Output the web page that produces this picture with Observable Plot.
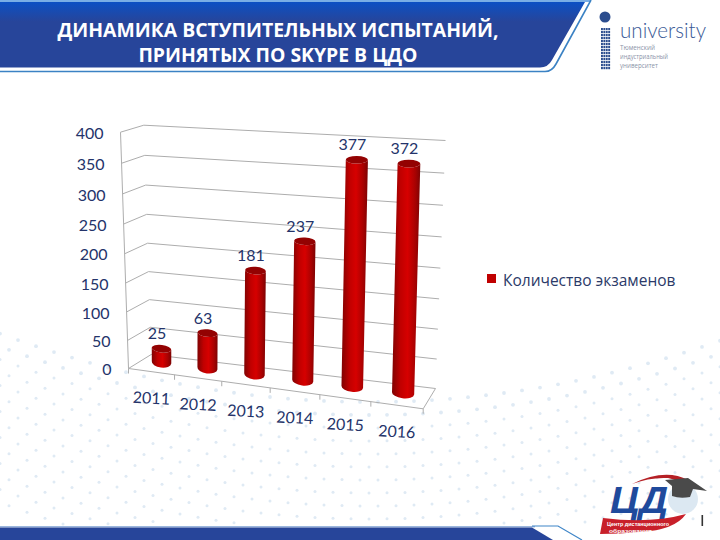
<!DOCTYPE html>
<html lang="ru"><head><meta charset="utf-8">
<script src="https://cdn.jsdelivr.net/npm/d3@7"></script>
<script src="https://cdn.jsdelivr.net/npm/@observablehq/plot@0.6"></script>
<style>
html,body{margin:0;padding:0;background:#fff;width:720px;height:540px;overflow:hidden}
#page{position:relative;width:720px;height:540px;overflow:hidden;font-family:Lato,"Open Sans",sans-serif}
#page>svg,#chart{position:absolute;left:0;top:0}
#chart svg{display:block}
.title{position:absolute;left:0;width:556px;text-align:center;color:#fff;font:700 19.8px/24px "Open Sans",sans-serif;white-space:nowrap;transform:scaleX(.98);transform-origin:277px 0}
.legend{position:absolute;left:503px;top:270px;font:15.5px/20px "Open Sans",sans-serif;color:#2b3a68;white-space:nowrap}
.sw{position:absolute;left:487px;top:274px;width:9px;height:9px;background:#c00000}
</style></head><body>
<div id="page">
<svg id="deco" width="720" height="540" viewBox="0 0 720 540"></svg>
<div id="chart"></div>
<svg id="brand" width="720" height="540" viewBox="0 0 720 540">
  <defs><linearGradient id="ban" x1="0" y1="0" x2="0" y2="1">
    <stop offset="0" stop-color="#0c50c4"/><stop offset=".3" stop-color="#27459a"/><stop offset="1" stop-color="#27459a"/>
  </linearGradient></defs>
  <rect x="0" y="0" width="590" height="2" fill="#79aee6"/>
  <path d="M0 2H585L552 60Q548 67.5 540 67.5H0Z" fill="url(#ban)"/>
  <path d="M591 0L556 64Q552 71.5 545 71.5H0" fill="none" stroke="#3b82c4" stroke-width="1.6"/>
  <rect x="0" y="526" width="535" height="1.4" fill="#9bb6dd"/>
  <path d="M0 527.5H532L553 540H0Z" fill="#27459a"/>
  <path d="M532 526H558L582 540" fill="none" stroke="#3f86c8" stroke-width="1.2"/>
  <!-- university logo -->
  <circle cx="605" cy="17" r="5.5" fill="#2c4d8e"/>
  <g id="logoDots"></g>
  <text x="620" y="38" font-family="Lato,'Open Sans'" font-weight="300" font-size="22" fill="#3a5a96" textLength="86" lengthAdjust="spacingAndGlyphs">university</text>
  <g font-family="'Open Sans'" font-size="6.4" fill="#8a93a8">
    <text x="620" y="50" textLength="35" lengthAdjust="spacingAndGlyphs">Тюменский</text>
    <text x="620" y="59" textLength="48" lengthAdjust="spacingAndGlyphs">индустриальный</text>
    <text x="620" y="68" textLength="38" lengthAdjust="spacingAndGlyphs">университет</text>
  </g>
  <!-- ЦД logo -->
  <path d="M632 484Q665 468 688 480Q696 486 694 496Q688 482 668 478Q650 477 632 484Z" fill="#b52025"/>
  <text x="610" y="513" font-family="'Liberation Sans'" font-weight="700" font-style="italic" font-size="36" fill="#1f4a9c" textLength="58" lengthAdjust="spacingAndGlyphs">ЦД</text>
  <circle cx="683" cy="499" r="15" fill="#dce8f2"/>
  <path d="M665 480L688 478L707 491L693 489L690 497Q680 499 672 496L672 486Z" fill="#4a4a4a"/>
  <path d="M603 518Q650 524 686 514Q675 530 640 532Q620 534 600 534Z" fill="#c8202a"/>
  <g font-family="'Liberation Sans'" font-weight="700" font-size="5.2" fill="#fff">
    <text x="607" y="526" textLength="62" lengthAdjust="spacingAndGlyphs">Центр дистанционного</text>
    <text x="609" y="532.5" textLength="43" lengthAdjust="spacingAndGlyphs">образования</text>
  </g>
  <rect x="701.5" y="515" width="1.6" height="11" fill="#333"/>
</svg>
<div class="title" style="top:18px">ДИНАМИКА ВСТУПИТЕЛЬНЫХ ИСПЫТАНИЙ,</div>
<div class="title" style="top:43px">ПРИНЯТЫХ ПО SKYPE В ЦДО</div>
<div class="sw"></div>
<div class="legend">Количество экзаменов</div>
</div>
<script>
// --- data ---
const years = [2011, 2012, 2013, 2014, 2015, 2016];
const counts = [25, 63, 181, 237, 377, 372];
const yTicks = [0, 50, 100, 150, 200, 250, 300, 350, 400];
const xEdges = [2010.5, 2011.5, 2012.5, 2013.5, 2014.5, 2015.5, 2016.5];
const legendLabel = "Количество экзаменов";

// --- oblique view of the chart's box: plot space -> page ---
const SPAN = 1000;
const warpU = u => u / (u + (1 - u) * 1.08);
const warpV = v => v / (v + (1 - v) * 1.06);
const mix = (a, b, t) => [a[0] + (b[0] - a[0]) * t, a[1] + (b[1] - a[1]) * t];
const corners = {
  flb: [128, 368], flt: [120, 131.7], frb: [422.7, 408.3], frt: [432, 147],
  blb: [150.7, 354], blt: [143.3, 124.7], brb: [435, 388], brt: [445, 140]
};
function box(px, py, d) {
  const w = warpU(px / SPAN), v = warpV(1 - py / SPAN), c = corners;
  const f = mix(mix(c.flb, c.frb, w), mix(c.flt, c.frt, w), v);
  const b = mix(mix(c.blb, c.brb, w), mix(c.blt, c.brt, w), v);
  return mix(f, b, d);
}
function barPlane(px, py) {
  const w = warpU(px / SPAN), v = 1 - py / SPAN;
  return mix(mix([139, 359.5], [429, 396.5], w), mix([138, 144.5], [436, 146.5], w), v);
}

function linkRender(d1, d2, dx = 0, dy = 0) {
  return (index, scales, values, dims, ctx, next) => {
    const n = values.x1.length;
    const x1 = new Float64Array(n), y1 = new Float64Array(n), x2 = new Float64Array(n), y2 = new Float64Array(n);
    for (let i = 0; i < n; i++) {
      const a = box(values.x1[i], values.y1[i], d1), b = box(values.x2[i], values.y2[i], d2);
      x1[i] = a[0]; y1[i] = a[1]; x2[i] = b[0] + dx; y2[i] = b[1] + dy;
    }
    return next(index, scales, {...values, x1, y1, x2, y2}, dims, ctx);
  };
}
function textRender(fn, dx, dy) {
  return (index, scales, values, dims, ctx, next) => {
    const n = values.x.length, x = new Float64Array(n), y = new Float64Array(n);
    for (let i = 0; i < n; i++) {
      const p = fn(values.x[i], values.y[i]);
      x[i] = p[0] + dx; y[i] = p[1] + dy;
    }
    return next(index, scales, {...values, x, y}, dims, ctx);
  };
}
function cylinderRender(index, scales, values, dims, ctx, next) {
  const g = next(index, scales, values, dims, ctx);
  const NS = "http://www.w3.org/2000/svg";
  Array.from(g.querySelectorAll("rect")).forEach((r, k) => {
    const i = index[k];
    const xa = values.x1[i], xb = values.x2[i], yt = values.y2[i], yb = values.y1[i];
    const lb = barPlane(xa, yb), rb = barPlane(xb, yb), lt = barPlane(xa, yt), rt = barPlane(xb, yt);
    const hb = Math.hypot(rb[0] - lb[0], rb[1] - lb[1]) / 2, ht = Math.hypot(rt[0] - lt[0], rt[1] - lt[1]) / 2;
    const ab = Math.atan2(rb[1] - lb[1], rb[0] - lb[0]) * 180 / Math.PI;
    const at = Math.atan2(rt[1] - lt[1], rt[0] - lt[0]) * 180 / Math.PI;
    const wrap = document.createElementNS(NS, "g");
    const body = document.createElementNS(NS, "path");
    body.setAttribute("d", `M${lt}L${lb}A${hb} 5.2 ${ab} 0 0 ${rb}L${rt}A${ht} 3.8 ${at} 0 1 ${lt}Z`);
    body.setAttribute("fill", "url(#barGrad)");
    const cap = document.createElementNS(NS, "ellipse");
    cap.setAttribute("cx", (lt[0] + rt[0]) / 2); cap.setAttribute("cy", (lt[1] + rt[1]) / 2);
    cap.setAttribute("rx", ht); cap.setAttribute("ry", 3.8);
    cap.setAttribute("transform", `rotate(${at} ${(lt[0] + rt[0]) / 2} ${(lt[1] + rt[1]) / 2})`);
    cap.setAttribute("fill", "#930202");
    wrap.append(body, cap);
    r.parentNode.replaceChild(wrap, r);
  });
  return g;
}

const xMin = xEdges[0], xMax = xEdges[xEdges.length - 1];
const grid = "#adadad", ink = "#24336a";
const plot = Plot.plot({
  width: 720, height: 540, margin: 0,
  x: {domain: [xMin, xMax], range: [0, SPAN], axis: null},
  y: {domain: [0, 400], range: [SPAN, 0], axis: null},
  style: {background: "transparent", overflow: "visible", fontFamily: "Lato, 'Open Sans', sans-serif"},
  marks: [
    Plot.link(yTicks, {x1: () => xMin, x2: () => xMax, y1: d => d, y2: d => d, stroke: grid, strokeWidth: 1, render: linkRender(1, 1)}),
    Plot.link(yTicks, {x1: () => xMin, x2: () => xMin, y1: d => d, y2: d => d, stroke: grid, strokeWidth: 1, render: linkRender(0, 1)}),
    Plot.link([0], {x1: () => xMin, x2: () => xMin, y1: () => 0, y2: () => 400, stroke: grid, strokeWidth: 1, render: linkRender(0, 0)}),
    Plot.link([0], {x1: () => xMin, x2: () => xMax, y1: () => 0, y2: () => 0, stroke: grid, strokeWidth: 1, render: linkRender(0, 0)}),
    Plot.link([0], {x1: () => xMax, x2: () => xMax, y1: () => 0, y2: () => 0, stroke: grid, strokeWidth: 1, render: linkRender(0, 1)}),
    Plot.link(xEdges, {x1: d => d, x2: d => d, y1: () => 0, y2: () => 0, stroke: grid, strokeWidth: 1, render: linkRender(0, 0, 0, 5)}),
    Plot.rect(years, {x1: d => d - 0.215, x2: d => d + 0.215, y1: () => 0, y2: (d, i) => counts[i], fill: "#c00000", render: cylinderRender}),
    Plot.text(yTicks, {x: () => xMin, y: d => d, text: d => String(d), textAnchor: "end", lineAnchor: "middle", fontSize: 16, fill: ink,
      render: textRender((x, y) => box(x, y, 0), -17, 1.5)}),
    Plot.text(years, {x: d => d, y: () => 0, text: d => String(d), lineAnchor: "middle", rotate: 3, fontSize: 16, fill: ink,
      render: textRender((x, y) => box(x, y, 0), 0, 27)}),
    Plot.text(years, {x: d => d, y: (d, i) => counts[i], text: (d, i) => String(counts[i]), lineAnchor: "middle", fontSize: 16, fill: ink,
      render: textRender(barPlane, -5, -15)})
  ]
});
d3.select(plot).append("defs").html(`<linearGradient id="barGrad" x1="0" y1="0" x2="1" y2="0">
  <stop offset="0" stop-color="#7f0303"/><stop offset=".3" stop-color="#c00000"/><stop offset=".55" stop-color="#d60000"/>
  <stop offset=".82" stop-color="#a80202"/><stop offset="1" stop-color="#7c0303"/></linearGradient>`);
document.getElementById("chart").append(plot);
document.querySelector(".legend").textContent = legendLabel;

// decoration: faint dotted waves behind the chart, dark dotted column of the logo
const deco = d3.select("#deco");
for (let r = 0; r < 14; r++) {
  for (let x = (r % 2) * 9; x <= 720; x += 18) {
    const y = 402 - 0.0005 * (x - 370) * (x - 370) + r * 13;
    if (y < 524) deco.append("circle").attr("cx", x).attr("cy", y).attr("r", r < 2 ? 1.9 : 1.5).attr("fill", "#dfeaf4");
  }
}
const ld = d3.select("#logoDots");
for (let j = 0; j < 14; j++) for (let k = 0; k < 4; k++)
  ld.append("rect").attr("x", 601 + k * 2.4).attr("y", 28 + j * 3).attr("width", 1.9).attr("height", 2.2).attr("fill", "#2c4d8e");
</script>
</body></html>
